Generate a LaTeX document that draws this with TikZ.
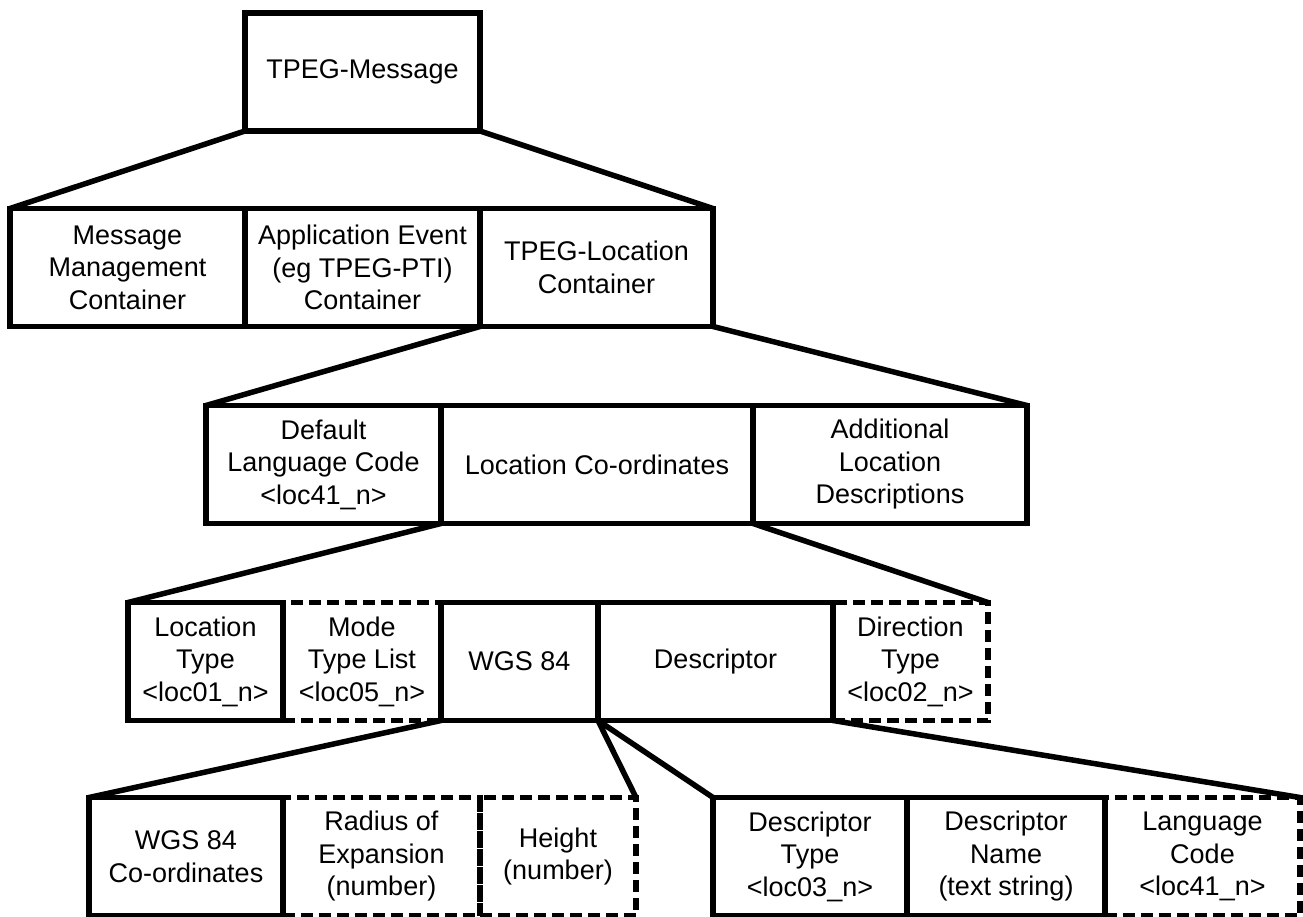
\documentclass[tikz,border=0pt]{standalone}
\usepackage{fontspec}
\setmainfont{Liberation Sans}
\usepackage{tikz}

\begin{document}
\begin{tikzpicture}[x=1pt,y=-1pt,
	cell/.style={draw, line width=5.5pt, inner sep=0pt, outer sep=0pt, align=center,
		minimum height=118pt, font=\fontsize{27}{32.5}\selectfont},
	optcell/.style={cell, dash pattern=on 12pt off 6pt},
	link/.style={line width=5.5pt, line cap=round}]
			\useasboundingbox (0,0) rectangle (1303,917);
			%optional fields first
			\node[optcell, minimum width=158pt] (mtl) at (362,661.5) {Mode\\Type List\\<loc05\_n>};
			\node[optcell, minimum width=155pt] (dir) at (910.5,661.5) {Direction\\Type\\<loc02\_n>};
			\node[optcell, minimum width=197pt] (rad) at (381.5,856.5) {Radius of\\Expansion\\(number)};
			\node[optcell, minimum width=156pt] (hgt) at (558,856.5) {Height\\(number)};
			\node[optcell, minimum width=195pt] (lcd) at (1202.5,856.5) {Language\\Code\\<loc41\_n>};
			%message
			\node[cell, minimum width=235pt] (msg) at (362.5,72) {TPEG-Message};
			\node[cell, minimum width=235pt] (mmc) at (127.5,267.5) {Message\\Management\\Container};
			\node[cell, minimum width=235pt] (aev) at (362.5,267.5) {Application Event\\(eg TPEG-PTI)\\Container};
			\node[cell, minimum width=233pt] (loc) at (596.5,267.5) {TPEG-Location\\Container};
			%location container
			\node[cell, minimum width=235pt] (dlc) at (323.5,464.5) {Default\\Language Code\\<loc41\_n>};
			\node[cell, minimum width=312pt] (lco) at (597,464.5) {Location Co-ordinates};
			\node[cell, minimum width=274pt] (ald) at (890,464.5) {Additional\\Location\\Descriptions};
			%co-ordinates
			\node[cell, minimum width=155pt] (lty) at (205.5,661.5) {Location\\Type\\<loc01\_n>};
			\node[cell, minimum width=157pt] (wgs) at (519.5,661.5) {WGS 84};
			\node[cell, minimum width=235pt] (dsc) at (715.5,661.5) {Descriptor};
			%wgs 84 and descriptor
			\node[cell, minimum width=194pt] (wco) at (186,856.5) {WGS 84\\Co-ordinates};
			\node[cell, minimum width=194pt] (dty) at (810,856.5) {Descriptor\\Type\\<loc03\_n>};
			\node[cell, minimum width=198pt] (dnm) at (1006,856.5) {Descriptor\\Name\\(text string)};
			%expansion lines
			\draw[link] (msg.south west) -- (mmc.north west);
			\draw[link] (msg.south east) -- (loc.north east);
			\draw[link] (loc.south west) -- (dlc.north west);
			\draw[link] (loc.south east) -- (ald.north east);
			\draw[link] (lco.south west) -- (lty.north west);
			\draw[link] (lco.south east) -- (dir.north east);
			\draw[link] (wgs.south west) -- (wco.north west);
			\draw[link] (wgs.south east) -- (hgt.north east);
			\draw[link] (dsc.south west) -- (dty.north west);
			\draw[link] (dsc.south east) -- (lcd.north east);
		\end{tikzpicture}
\end{document}
